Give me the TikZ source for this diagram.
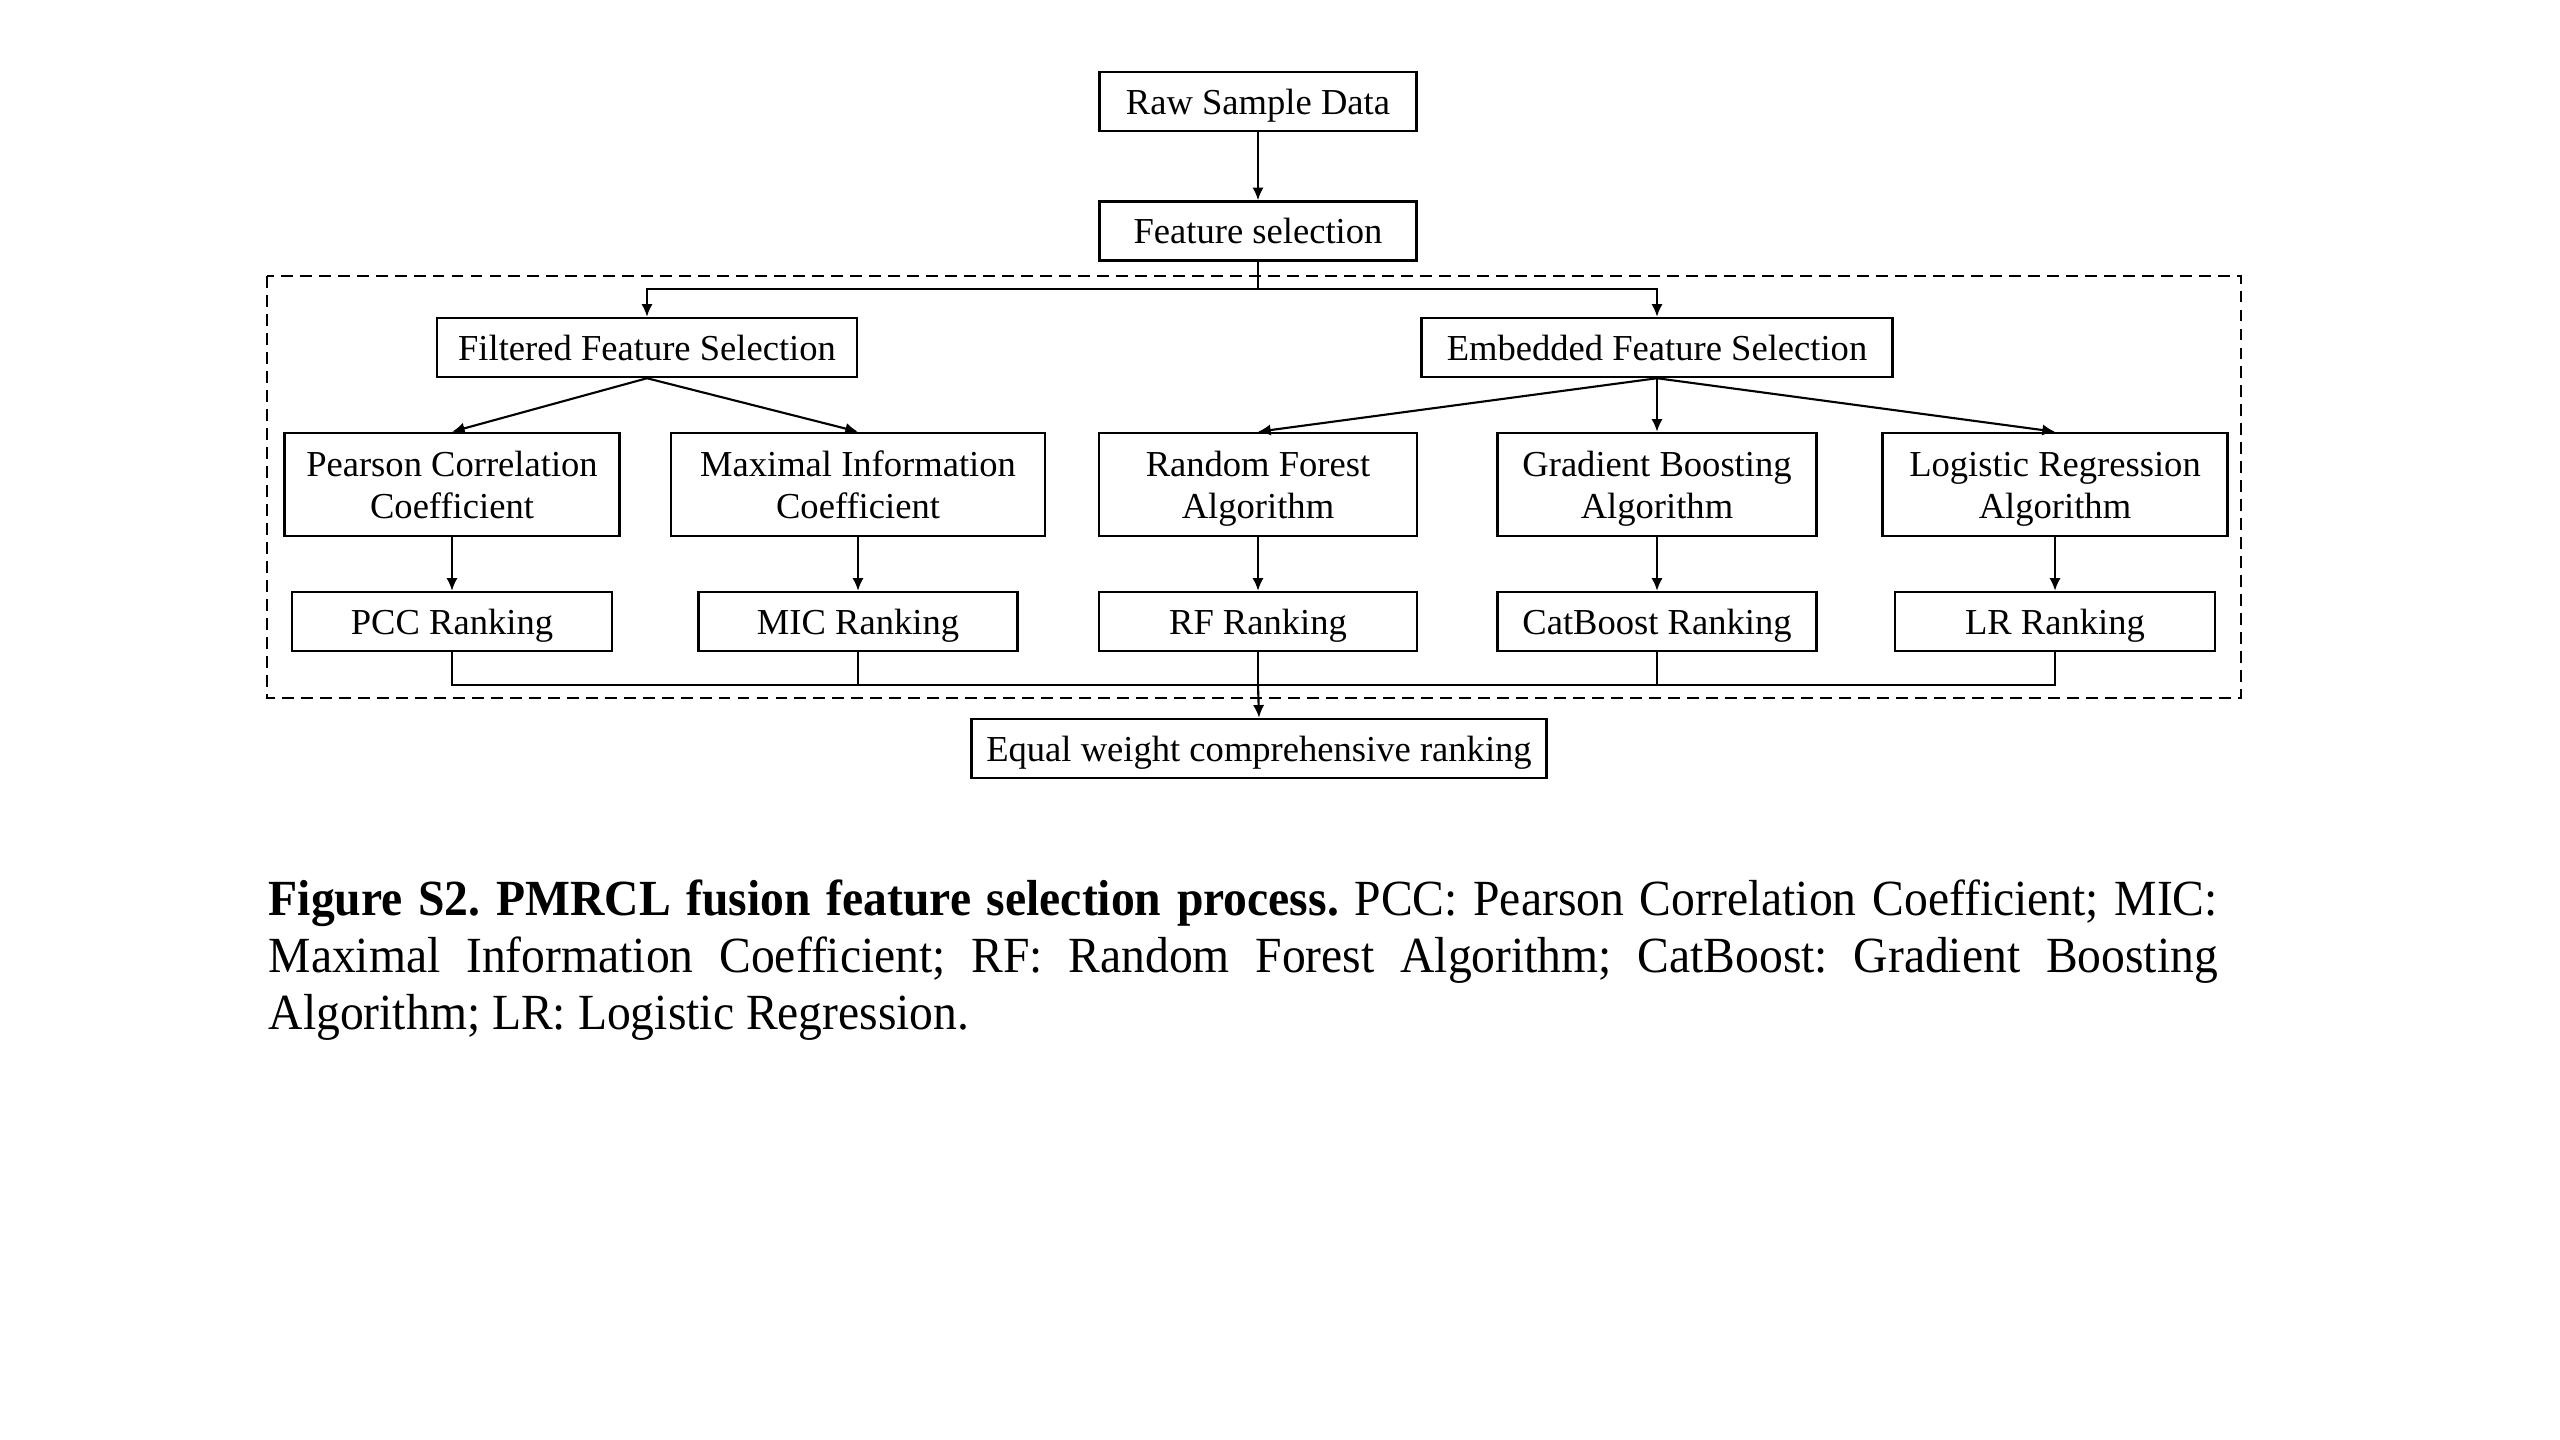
\documentclass[tikz,border=0pt]{standalone}
\usepackage{fontspec}
\setmainfont{Liberation Serif}
\newfontfamily\capfont[FakeStretch=0.94]{Liberation Serif}
\usetikzlibrary{arrows.meta}
% invisible rule that sets the height of the first line in two-line boxes
\newcommand\firstrule{\rule{0pt}{11.2pt}}
\begin{document}
\frenchspacing
\begin{tikzpicture}[x=0.01cm,y=-0.01cm,
  box/.style={draw, line width=0.7pt, inner sep=0pt,
    font=\fontsize{10.4}{12}\selectfont, minimum height=0.59cm},
  single/.style={box, text height=0.95em, text depth=0.22em},
  tall/.style={box, align=center, minimum height=1.03cm},
  arr/.style={-{Latex[length=3.6pt,width=3.2pt]}, line width=0.6pt},
  link/.style={line width=0.6pt},
  group/.style={draw, dash pattern=on 3.4pt off 2pt, line width=0.5pt}]
\useasboundingbox (0,0) rectangle (2560,1440);

% dashed frame around both selection branches
\draw[group] (267,276) rectangle (2241,698);

% main column
\node[single, minimum width=3.17cm] (raw) at (1258,101.5) {Raw Sample Data};
\node[single, minimum width=3.17cm] (fs)  at (1258,231) {Feature selection};

% the two selection families
\node[single, minimum width=4.20cm] (ffs) at (647,347.5) {Filtered Feature Selection};
\node[single, minimum width=4.71cm] (efs) at (1657,347.5) {Embedded Feature Selection};

% individual methods (rules keep both lines at the same height in every box)
\node[tall, minimum width=3.35cm] (pcc) at (452,484.5) {Pearson Correlation\firstrule\\Coefficient\strut};
\node[tall, minimum width=3.74cm] (mic) at (858,484.5) {Maximal Information\firstrule\\Coefficient\strut};
\node[tall, minimum width=3.18cm] (rfa) at (1258,484.5) {Random Forest\firstrule\\Algorithm\strut};
\node[tall, minimum width=3.19cm] (gba) at (1657,484.5) {Gradient Boosting\firstrule\\Algorithm\strut};
\node[tall, minimum width=3.45cm] (lra) at (2055,484.5) {Logistic Regression\firstrule\\Algorithm\strut};

% rankings produced by each method
\node[single, minimum width=3.20cm] (pccr) at (452,621.5) {PCC Ranking};
\node[single, minimum width=3.19cm] (micr) at (858,621.5) {MIC Ranking};
\node[single, minimum width=3.18cm] (rfr)  at (1258,621.5) {RF Ranking};
\node[single, minimum width=3.19cm] (catr) at (1657,621.5) {CatBoost Ranking};
\node[single, minimum width=3.20cm] (lrr)  at (2055,621.5) {LR Ranking};

% fused result
\node[single, minimum width=5.75cm] (ewr) at (1259,748.5) {Equal weight comprehensive ranking};

% connectors
\draw[arr] (raw) -- (fs);
\coordinate (split) at (1258,289);
\draw[link] (fs.south) -- (split);
\draw[arr] (split) -| (ffs.north);
\draw[arr] (split) -| (efs.north);

\draw[arr] (ffs.south) -- (pcc.north);
\draw[arr] (ffs.south) -- (mic.north);
\draw[arr] (efs.south) -- (rfa.north);
\draw[arr] (efs.south) -- (gba.north);
\draw[arr] (efs.south) -- (lra.north);

\draw[arr] (pcc) -- (pccr);
\draw[arr] (mic) -- (micr);
\draw[arr] (rfa) -- (rfr);
\draw[arr] (gba) -- (catr);
\draw[arr] (lra) -- (lrr);

\coordinate (merge) at (1258,685);
\draw[link] (pccr.south) |- (merge);
\draw[link] (micr.south) |- (merge);
\draw[link] (lrr.south) |- (merge);
\draw[link] (catr.south) |- (merge);
\draw[link] (rfr.south) -- (merge);
\draw[arr] (merge) -- (ewr.north);

% caption
\node[anchor=north west, inner sep=0pt, text width=19.48cm, align=justify,
  font=\capfont\fontsize{14.4}{16.2}\selectfont] (cap) at (268,879)
  {\textbf{Figure S2. PMRCL fusion feature selection process.} PCC: Pearson Correlation Coefficient; MIC:\linebreak
   Maximal Information Coefficient; RF: Random Forest Algorithm; CatBoost: Gradient Boosting\linebreak
   Algorithm; LR: Logistic Regression.};
\end{tikzpicture}
\end{document}
